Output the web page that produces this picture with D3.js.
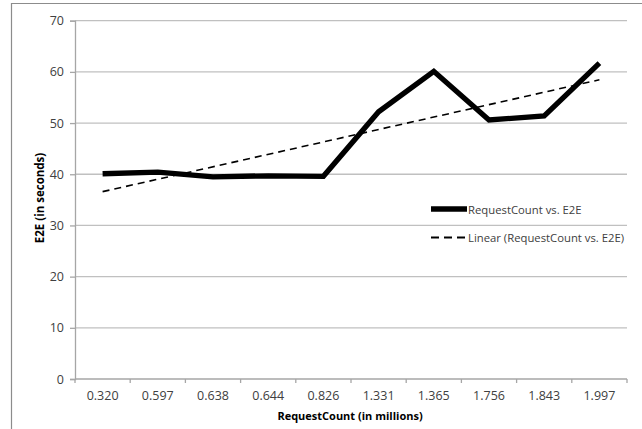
<!DOCTYPE html>
<html>
<head>
<meta charset="utf-8">
<script src="https://cdn.jsdelivr.net/npm/d3@7"></script>
<style>
  html, body { margin: 0; padding: 0; background: #fff; }
  svg { display: block; font-family: "Open Sans", "Liberation Sans", sans-serif; }
</style>
</head>
<body>
<svg id="chart" width="642" height="429"></svg>
<script>
// Request counts (millions) used as category labels along the x axis
const categories = ["0.320", "0.597", "0.638", "0.644", "0.826", "1.331", "1.365", "1.756", "1.843", "1.997"];
// End-to-end time in seconds for each request count
const e2eSeconds = [40.1, 40.4, 39.5, 39.7, 39.6, 52.2, 60.1, 50.6, 51.4, 61.7];
const yTicks = [0, 10, 20, 30, 40, 50, 60, 70];
const seriesName = "RequestCount vs. E2E";
const trendName = "Linear (RequestCount vs. E2E)";

const svg = d3.select("#chart");
const W = 642, H = 429;
const x0 = 75, x1 = 627, yTop = 20.7, yBot = 379;

const x = d3.scaleBand().domain(categories).range([x0, x1]).paddingInner(0).paddingOuter(0);
const y = d3.scaleLinear().domain([0, 70]).range([yBot, yTop]);

// chart frame
svg.append("path")
  .attr("d", `M11.5,${H} V3.5 H${W}`)
  .attr("fill", "none").attr("stroke", "#8c8c8c").attr("stroke-width", 1.2);

// horizontal gridlines
svg.append("g").selectAll("line").data(yTicks.filter(d => d > 0)).join("line")
  .attr("x1", x0).attr("x2", x1)
  .attr("y1", d => y(d)).attr("y2", d => y(d))
  .attr("stroke", "#c0c0c0").attr("stroke-width", 1.3);

// y axis
const yAxis = svg.append("g").attr("transform", `translate(${x0},0)`)
  .call(d3.axisLeft(y).tickValues(yTicks).tickSize(5).tickPadding(6).tickFormat(d3.format("d")));
yAxis.select(".domain").attr("stroke", "#a6a6a6").attr("stroke-width", 1.3);
yAxis.selectAll(".tick line").attr("stroke", "#a6a6a6").attr("stroke-width", 1.3);
yAxis.selectAll(".tick text").attr("fill", "#404040").attr("font-size", 12.5)
  .attr("font-family", "'Open Sans', sans-serif");

// x axis with ticks at the category boundaries
const xAxisG = svg.append("g").attr("transform", `translate(0,${yBot})`);
xAxisG.append("line").attr("x1", x0).attr("x2", x1).attr("y1", 0).attr("y2", 0)
  .attr("stroke", "#a6a6a6").attr("stroke-width", 1.3);
const bounds = categories.map(c => x(c)).concat([x1]);
xAxisG.selectAll("line.tk").data(bounds).join("line").attr("class", "tk")
  .attr("x1", d => d).attr("x2", d => d).attr("y1", 0).attr("y2", 4)
  .attr("stroke", "#a6a6a6").attr("stroke-width", 1.3);
xAxisG.selectAll("text").data(categories).join("text")
  .attr("x", d => x(d) + x.bandwidth() / 2).attr("y", 21)
  .attr("text-anchor", "middle").attr("fill", "#404040").attr("font-size", 12.5)
  .text(d => d);

// axis titles
svg.append("text").attr("x", 350).attr("y", 420).attr("text-anchor", "middle")
  .attr("font-weight", "bold").attr("font-size", 11).attr("fill", "#000")
  .text("RequestCount (in millions)");
svg.append("text").attr("transform", "translate(44,198) rotate(-90)")
  .attr("text-anchor", "middle").attr("font-weight", "bold").attr("font-size", 11.5).attr("fill", "#000")
  .text("E2E (in seconds)");

const cx = d => x(d) + x.bandwidth() / 2;
const pts = categories.map((c, i) => ({ c, i: i + 1, v: e2eSeconds[i] }));

// least-squares linear trend over category index
const n = pts.length;
const mx = d3.mean(pts, p => p.i), my = d3.mean(pts, p => p.v);
const slope = d3.sum(pts, p => (p.i - mx) * (p.v - my)) / d3.sum(pts, p => (p.i - mx) ** 2);
const icpt = my - slope * mx;
const trend = [pts[0], pts[n - 1]].map(p => ({ c: p.c, v: icpt + slope * p.i }));

const line = d3.line().x(p => cx(p.c)).y(p => y(p.v));

svg.append("path").datum(pts).attr("d", line)
  .attr("fill", "none").attr("stroke", "#000").attr("stroke-width", 5.3)
  .attr("stroke-linejoin", "miter");

svg.append("path").datum(trend).attr("d", line)
  .attr("fill", "none").attr("stroke", "#000").attr("stroke-width", 1.6)
  .attr("stroke-dasharray", "7,5");

// legend
const lg = svg.append("g");
const legendRows = [
  { label: seriesName, w: 5.3, dash: null, yy: 209 },
  { label: trendName, w: 1.8, dash: "8,5", yy: 237.5 }
];
legendRows.forEach(r => {
  lg.append("line").attr("x1", 431).attr("x2", 467).attr("y1", r.yy).attr("y2", r.yy)
    .attr("stroke", "#000").attr("stroke-width", r.w).attr("stroke-dasharray", r.dash);
  lg.append("text").attr("x", 468).attr("y", r.yy + 4.5).attr("font-size", 11.3)
    .attr("fill", "#404040").text(r.label);
});
</script>
</body>
</html>
